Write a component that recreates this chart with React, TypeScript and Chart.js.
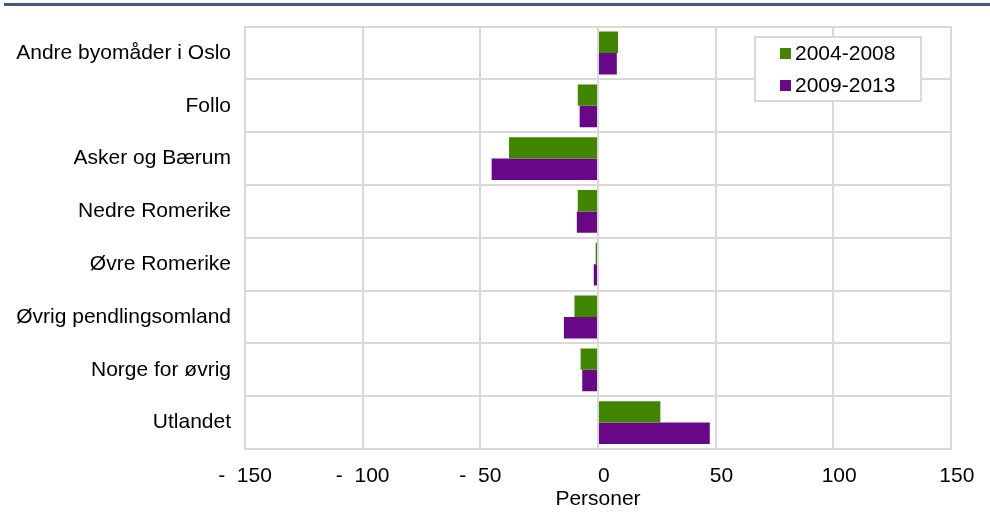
import React, { useEffect, useRef } from 'react';
import { Chart, registerables } from 'chart.js';

Chart.register(...registerables);

const categories = [
  'Andre byomåder i Oslo',
  'Follo',
  'Asker og Bærum',
  'Nedre Romerike',
  'Øvre Romerike',
  'Øvrig pendlingsomland',
  'Norge for øvrig',
  'Utlandet',
];
const seriesALabel = '2004-2008';
const seriesA = [8.5, -8.6, -37.8, -8.6, -1, -10, -7.4, 26.5];
const seriesBLabel = '2009-2013';
const seriesB = [8, -7.8, -45.2, -9, -1.8, -14.5, -6.7, 47.5];
const xMin = -150;
const xMax = 150;
const xStep = 50;
const xTitle = 'Personer';

const FONT = 'Liberation Sans, Arial, sans-serif';
const GREEN = '#418500';
const PURPLE = '#690886';
const GRID = '#d9d9d9';

const decorPlugin = {
  id: 'decor',
  beforeDraw(chart: any) {
    const ctx = chart.ctx;
    ctx.save();
    ctx.fillStyle = '#ffffff';
    ctx.fillRect(0, 0, chart.width, chart.height);
    ctx.fillStyle = '#3f5a88';
    ctx.fillRect(4, 3, chart.width - 4, 3);
    ctx.restore();
  },
  afterDraw(chart: any) {
    const ctx = chart.ctx;
    ctx.save();
    const x = 755, y = 37, w = 166, h = 64;
    ctx.fillStyle = '#ffffff';
    ctx.fillRect(x, y, w, h);
    ctx.strokeStyle = GRID;
    ctx.lineWidth = 2;
    ctx.strokeRect(x, y, w, h);
    ctx.font = `21px ${FONT}`;
    ctx.textBaseline = 'middle';
    ctx.textAlign = 'left';
    chart.data.datasets.forEach((ds: any, i: number) => {
      const cy = 53.5 + i * 32;
      ctx.fillStyle = ds.backgroundColor;
      ctx.fillRect(780, cy - 5.5, 11, 11);
      ctx.fillStyle = '#000';
      ctx.fillText(ds.label, 795, cy + 1);
    });
    ctx.restore();
  },
};

export default function App() {
  const ref = useRef<HTMLCanvasElement>(null);
  useEffect(() => {
    document.body.style.margin = '0';
    const chart = new Chart(ref.current!, {
      type: 'bar',
      data: {
        labels: categories,
        datasets: [
          { label: seriesALabel, data: seriesA, backgroundColor: GREEN, categoryPercentage: 0.81, barPercentage: 1 },
          { label: seriesBLabel, data: seriesB, backgroundColor: PURPLE, categoryPercentage: 0.81, barPercentage: 1 },
        ],
      },
      options: {
        indexAxis: 'y',
        responsive: false,
        animation: false,
        devicePixelRatio: 1,
        layout: { padding: { left: 0, right: 39, top: 25, bottom: 0 } },
        plugins: { legend: { display: false }, tooltip: { enabled: false } },
        scales: {
          y: {
            type: 'category',
            offset: true,
            grid: { offset: true, color: GRID, lineWidth: 2, drawTicks: false },
            border: { display: true, color: GRID, width: 2 },
            ticks: { color: '#000', font: { family: FONT, size: 21 }, padding: 14 },
            afterFit(s: any) { s.width = 245; },
          },
          x: {
            type: 'linear',
            min: xMin,
            max: xMax,
            grid: { color: GRID, lineWidth: 2, drawTicks: false },
            border: { display: true, color: GRID, width: 2 },
            ticks: {
              stepSize: xStep,
              color: '#000',
              font: { family: FONT, size: 21 },
              padding: 15,
              maxRotation: 0,
              callback: (v: any) => (v < 0 ? `-  ${Math.abs(v)}` : `  ${v}`),
            },
            title: { display: true, text: xTitle, color: '#000', font: { family: FONT, size: 21 }, padding: { top: 0, bottom: 18 } },
            afterFit(s: any) { s.height = 81; },
          },
        },
      },
      plugins: [decorPlugin],
    });
    return () => chart.destroy();
  }, []);
  return (
    <div style={{ position: 'absolute', left: 0, top: 0 }}>
      <canvas ref={ref} width={990} height={530} />
    </div>
  );
}
